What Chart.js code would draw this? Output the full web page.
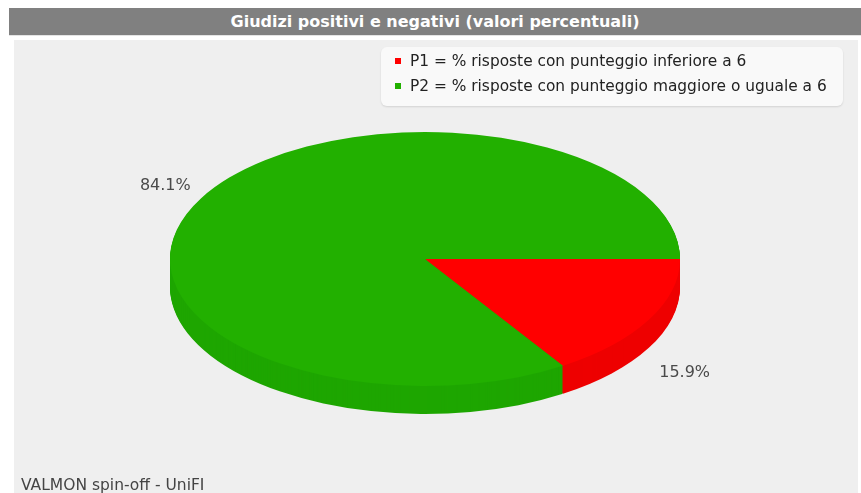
<!DOCTYPE html>
<html>
<head>
<meta charset="utf-8">
<script src="https://cdn.jsdelivr.net/npm/chart.js@4.4.0/dist/chart.umd.min.js"></script>
<style>
  html, body { margin: 0; padding: 0; background: #ffffff; }
  #wrap { position: relative; width: 861px; height: 493px; overflow: hidden; font-family: "DejaVu Sans", sans-serif; }
  #titleBar { position: absolute; left: 9px; top: 8px; width: 852px; height: 27px; background: #808080; border-bottom: 1px solid #e4e4e4;
    color: #fff; font: bold 16px "DejaVu Sans", sans-serif; text-align: center; line-height: 27px; text-indent: 0px; }
  #plotBg { position: absolute; left: 14px; top: 40px; width: 844px; height: 453px; background: #efefef; }
  #pieChart { position: absolute; left: 0; top: 0; }
  #legendBox { position: absolute; left: 381px; top: 47px; width: 462px; height: 59px; background: #f9f9f9; border-radius: 6px;
    box-shadow: 0 1px 2px rgba(0,0,0,0.12); box-sizing: border-box; padding: 2px 0 0 14px; }
  .legItem { height: 25px; line-height: 25px; font-size: 15.4px; color: #222; white-space: nowrap; }
  .legItem span { display: inline-block; width: 6px; height: 6px; margin-right: 9px; vertical-align: middle; position: relative; top: -1px; }
  #footer { position: absolute; left: 21px; top: 476px; font-size: 15.5px; color: #444; }
</style>
</head>
<body>
<div id="wrap">
  <div id="titleBar">Giudizi positivi e negativi (valori percentuali)</div>
  <div id="plotBg"></div>
  <canvas id="pieChart" width="861" height="493"></canvas>
  <div id="legendBox"></div>
  <div id="footer">VALMON spin-off - UniFI</div>
</div>
<script>
const categories = ["P1 = % risposte con punteggio inferiore a 6", "P2 = % risposte con punteggio maggiore o uguale a 6"];
const percentages = [15.9, 84.1];
const percentLabels = ["15.9%", "84.1%"];
const topColors = ["#ff0000", "#22b000"];
const sideColors = ["#ee0000", "#1ea600"];

const TILT = 127 / 255;
const DEPTH = 28;

const pie3d = {
    id: "pie3d",
    beforeDatasetsDraw(chart) {
        const ctx = chart.ctx;
        const arcs = chart.getDatasetMeta(0).data;
        // side wall: stacked slices below the top face
        for (let d = DEPTH; d > 0; d--) {
            arcs.forEach((arc, i) => {
                const p = arc.getProps(["x", "y", "startAngle", "endAngle", "outerRadius"]);
                ctx.beginPath();
                ctx.moveTo(p.x, p.y + d);
                ctx.ellipse(p.x, p.y + d, p.outerRadius, p.outerRadius * TILT, 0, p.startAngle, p.endAngle);
                ctx.closePath();
                ctx.fillStyle = sideColors[i];
                ctx.fill();
            });
        }
        // squash the top face into an ellipse
        const c = arcs[0];
        ctx.save();
        ctx.translate(c.x, c.y);
        ctx.scale(1, TILT);
        ctx.translate(-c.x, -c.y);
    },
    afterDatasetsDraw(chart) {
        const ctx = chart.ctx;
        ctx.restore();
        const arcs = chart.getDatasetMeta(0).data;
        ctx.save();
        ctx.font = "16px 'DejaVu Sans', sans-serif";
        ctx.fillStyle = "#4a4a4a";
        ctx.textAlign = "center";
        ctx.textBaseline = "middle";
        arcs.forEach((arc, i) => {
            const p = arc.getProps(["x", "y", "startAngle", "endAngle", "outerRadius"]);
            const mid = (p.startAngle + p.endAngle) / 2;
            const rx = p.outerRadius * 1.16;
            const ry = p.outerRadius * TILT * 1.2;
            const s = Math.sin(mid);
            const x = p.x + rx * Math.cos(mid);
            const y = p.y + ry * s + (s > 0 ? DEPTH * 1.45 : 0);
            ctx.fillText(percentLabels[i], x, y);
        });
        ctx.restore();
    }
};

const pieCtx = document.getElementById("pieChart");

const pieChart = new Chart(pieCtx, {
    type: "pie",
    data: {
        labels: categories,
        datasets: [
            {
                data: percentages,
                backgroundColor: topColors,
                borderWidth: 0,
                radius: 255
            }
        ]
    },
    options: {
        responsive: false,
        animation: false,
        rotation: 90,
        layout: {
            padding: { left: 0, right: 11, top: 25, bottom: 0 }
        },
        plugins: {
            legend: { display: false },
            tooltip: { enabled: false }
        }
    },
    plugins: [pie3d]
});

// html legend built from the chart's own legend items
const legendBox = document.getElementById("legendBox");
pieChart.options.plugins.legend.labels.generateLabels(pieChart).forEach((item) => {
    const row = document.createElement("div");
    row.className = "legItem";
    const sw = document.createElement("span");
    sw.style.background = item.fillStyle;
    row.appendChild(sw);
    row.appendChild(document.createTextNode(item.text));
    legendBox.appendChild(row);
});
</script>
</body>
</html>
